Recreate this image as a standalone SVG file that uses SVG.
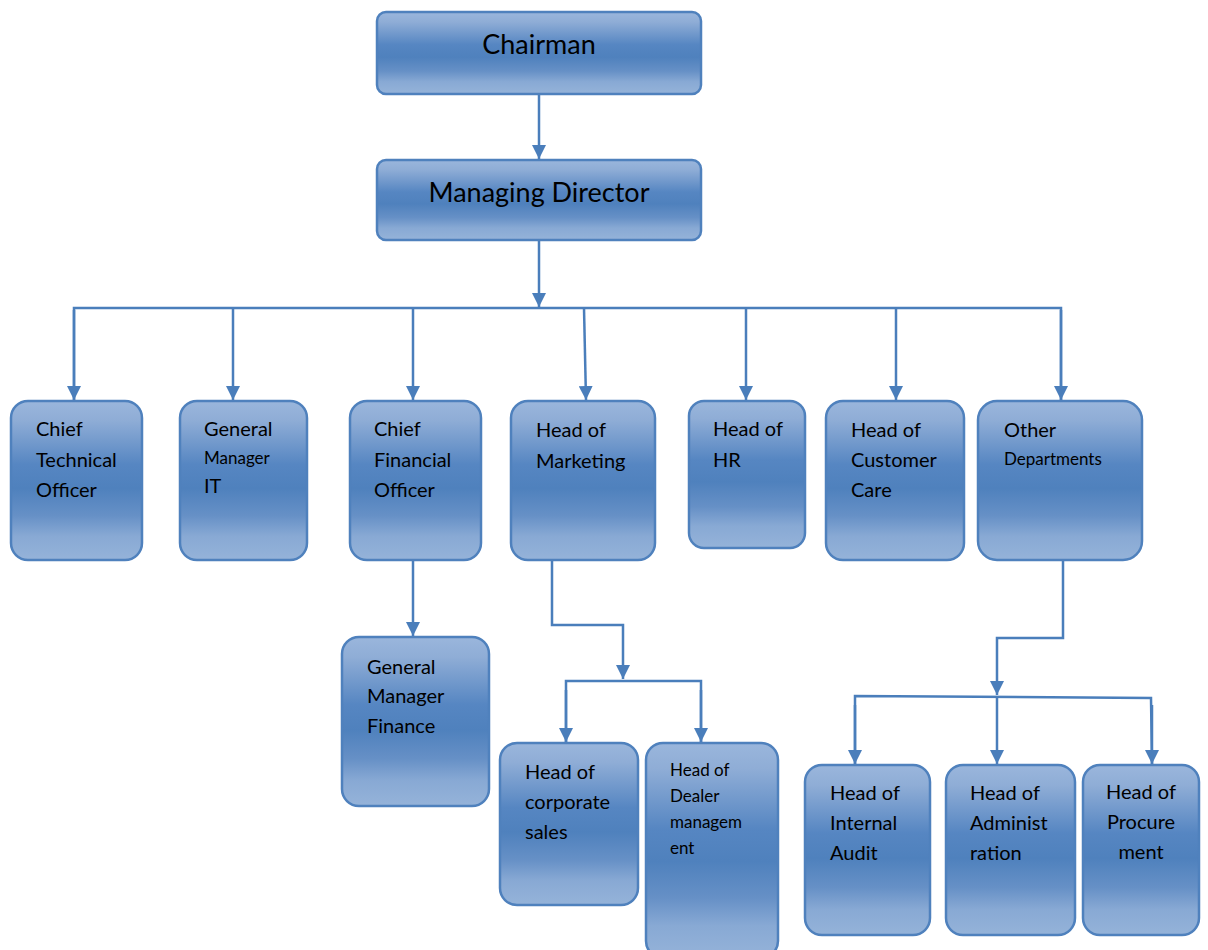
<svg xmlns="http://www.w3.org/2000/svg" width="1208" height="950" viewBox="0 0 1208 950">
<defs>
<linearGradient id="g" x1="0" y1="0" x2="0" y2="1">
<stop offset="0" stop-color="#9ab6dc"/>
<stop offset="0.12" stop-color="#8fadd6"/>
<stop offset="0.4" stop-color="#5686c2"/>
<stop offset="0.55" stop-color="#4f81bd"/>
<stop offset="0.72" stop-color="#6690c6"/>
<stop offset="0.85" stop-color="#88a9d4"/>
<stop offset="1" stop-color="#95b3d9"/>
</linearGradient>
<marker id="ah" viewBox="0 0 14 14" refX="14" refY="7" markerWidth="14" markerHeight="14" markerUnits="userSpaceOnUse" orient="auto">
<path d="M0,0 L14,7 L0,14 Z" fill="#4a7ebb"/>
</marker>
<style>
.box{fill:url(#g);stroke:#4f81bd;stroke-width:2.5}
.t{font-family:Lato,"Liberation Sans",sans-serif;font-size:20px;fill:#000}
.s{font-size:17px}
.d{font-size:17px}
.big{font-size:27px}
.c{text-anchor:middle}
.ln{fill:none;stroke:#4a7ebb;stroke-width:2.5}
.ar{marker-end:url(#ah)}
</style>
</defs>
<g id="connectors">
<line class="ln ar" x1="539" y1="94" x2="539" y2="159"/>
<line class="ln ar" x1="539" y1="240" x2="539" y2="307"/>
<polyline class="ln" points="74,400 74,308 1061,308 1061,400"/>
<line class="ln ar" x1="74" y1="310" x2="74" y2="400"/>
<line class="ln ar" x1="233" y1="308" x2="233" y2="400"/>
<line class="ln ar" x1="413" y1="308" x2="413" y2="400"/>
<line class="ln ar" x1="584" y1="308" x2="586" y2="400"/>
<line class="ln ar" x1="746" y1="308" x2="746" y2="400"/>
<line class="ln ar" x1="896" y1="308" x2="896" y2="400"/>
<line class="ln ar" x1="1061" y1="310" x2="1061" y2="400"/>
<line class="ln ar" x1="413" y1="561" x2="413" y2="636"/>
<polyline class="ln ar" points="552,561 552,625 623,625 623,679"/>
<polyline class="ln" points="566,742 566,681 701,681 701,742"/>
<line class="ln ar" x1="566" y1="690" x2="566" y2="742"/>
<line class="ln ar" x1="701" y1="690" x2="701" y2="742"/>
<polyline class="ln ar" points="1063,561 1063,638 997,638 997,695"/>
<polyline class="ln" points="855,764 855,696 1151,698 1152,764"/>
<line class="ln ar" x1="855" y1="705" x2="855" y2="764"/>
<line class="ln ar" x1="997" y1="696" x2="997" y2="764"/>
<line class="ln ar" x1="1152" y1="705" x2="1152" y2="764"/>
</g>
<g id="chairman"><rect class="box" x="377" y="12" width="324" height="82" rx="9"/><text class="t big c" x="539" y="54">Chairman</text></g>
<g id="md"><rect class="box" x="377" y="160" width="324" height="80" rx="9"/><text class="t big c" x="539" y="202">Managing Director</text></g>
<g id="cto"><rect class="box" x="11" y="401" width="131" height="159" rx="17"/><text class="t" x="36" y="436">Chief</text><text class="t" x="36" y="467">Technical</text><text class="t" x="36" y="497">Officer</text></g>
<g id="gmit"><rect class="box" x="180" y="401" width="127" height="159" rx="17"/><text class="t" x="204" y="436">General</text><text class="t s" x="204" y="464">Manager</text><text class="t" x="204" y="493">IT</text></g>
<g id="cfo"><rect class="box" x="350" y="401" width="131" height="159" rx="17"/><text class="t" x="374" y="436">Chief</text><text class="t" x="374" y="467">Financial</text><text class="t" x="374" y="497">Officer</text></g>
<g id="marketing"><rect class="box" x="511" y="401" width="144" height="159" rx="17"/><text class="t" x="536" y="437">Head of</text><text class="t" x="536" y="468">Marketing</text></g>
<g id="hr"><rect class="box" x="689" y="401" width="116" height="147" rx="15"/><text class="t" x="713" y="436">Head of</text><text class="t" x="713" y="467">HR</text></g>
<g id="customercare"><rect class="box" x="826" y="401" width="138" height="159" rx="17"/><text class="t" x="851" y="437">Head of</text><text class="t" x="851" y="467">Customer</text><text class="t" x="851" y="497">Care</text></g>
<g id="other"><rect class="box" x="978" y="401" width="164" height="159" rx="19"/><text class="t" x="1004" y="437">Other</text><text class="t s" x="1004" y="465">Departments</text></g>
<g id="gmfinance"><rect class="box" x="342" y="637" width="147" height="169" rx="17"/><text class="t" x="367" y="674">General</text><text class="t" x="367" y="703">Manager</text><text class="t" x="367" y="733">Finance</text></g>
<g id="corporate"><rect class="box" x="500" y="743" width="138" height="162" rx="17"/><text class="t" x="525" y="779">Head of</text><text class="t" x="525" y="809">corporate</text><text class="t" x="525" y="839">sales</text></g>
<g id="dealer"><rect class="box" x="646" y="743" width="132" height="215" rx="17"/><text class="t d" x="670" y="776">Head of</text><text class="t d" x="670" y="802">Dealer</text><text class="t d" x="670" y="828">managem</text><text class="t d" x="670" y="854">ent</text></g>
<g id="audit"><rect class="box" x="805" y="765" width="125" height="170" rx="17"/><text class="t" x="830" y="800">Head of</text><text class="t" x="830" y="830">Internal</text><text class="t" x="830" y="860">Audit</text></g>
<g id="admin"><rect class="box" x="946" y="765" width="129" height="170" rx="17"/><text class="t" x="970" y="800">Head of</text><text class="t" x="970" y="830">Administ</text><text class="t" x="970" y="860">ration</text></g>
<g id="procurement"><rect class="box" x="1083" y="765" width="116" height="170" rx="17"/><text class="t c" x="1141" y="799">Head of</text><text class="t c" x="1141" y="829">Procure</text><text class="t c" x="1141" y="859">ment</text></g>
</svg>
